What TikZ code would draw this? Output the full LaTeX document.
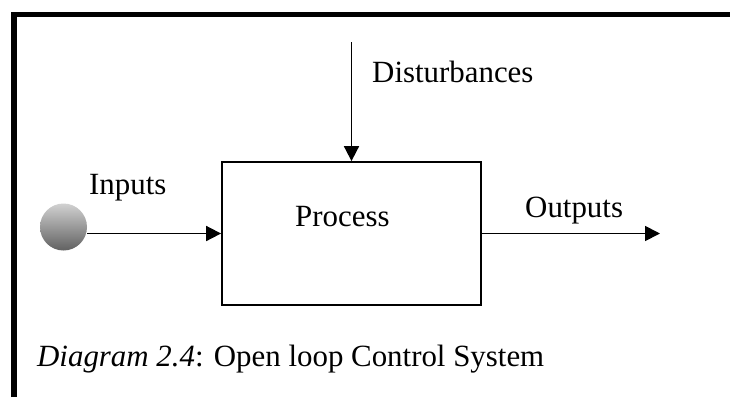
\documentclass[tikz,border=0pt]{standalone}
\usepackage{fontspec}
\setmainfont{Liberation Serif}
\usetikzlibrary{arrows.meta}

\begin{document}
\begin{tikzpicture}[
  x=1bp, y=-1bp,
  every node/.style={font=\fontsize{31}{37}\selectfont, inner sep=0pt},
  frameline/.style={line width=5.8bp},
  blockbox/.style={draw, line width=1.8bp, minimum width=259bp, minimum height=143bp},
  signal/.style={line width=1.8bp, -{Triangle[length=15bp,width=15bp]}},
  label text/.style={anchor=base west}
  ]
  \useasboundingbox (0,0) rectangle (730,397);

  % frame round the figure
  \draw[frameline] (14,397) -- (14,14.5) -- (730,14.5);

  % source, process and signals
  \shade[top color=black!18, bottom color=black!62] (63.5,227) circle (23.5);
  \coordinate (source) at (87,227);
  \node[blockbox] (process) at (351.5,233.5) {};
  \coordinate (dist) at (351.5,42);
  \coordinate (output) at (660,233.5);

  \draw[signal] (source |- process.west) -- (process.west);
  \draw[signal] (dist) -- (process.north);
  \draw[signal] (process.east) -- (output);

  % labels
  \node[label text] (inlabel) at (89,194) {Inputs};
  \node[label text] (proclabel) at (295,226) {Process};
  \node[label text] (outlabel) at (525,217) {Outputs};
  \node[label text] (distlabel) at (372,82) {Disturbances};
  \node[label text] (caption) at (37,366) {\textit{Diagram 2.4}: Open loop Control System};
\end{tikzpicture}
\end{document}
